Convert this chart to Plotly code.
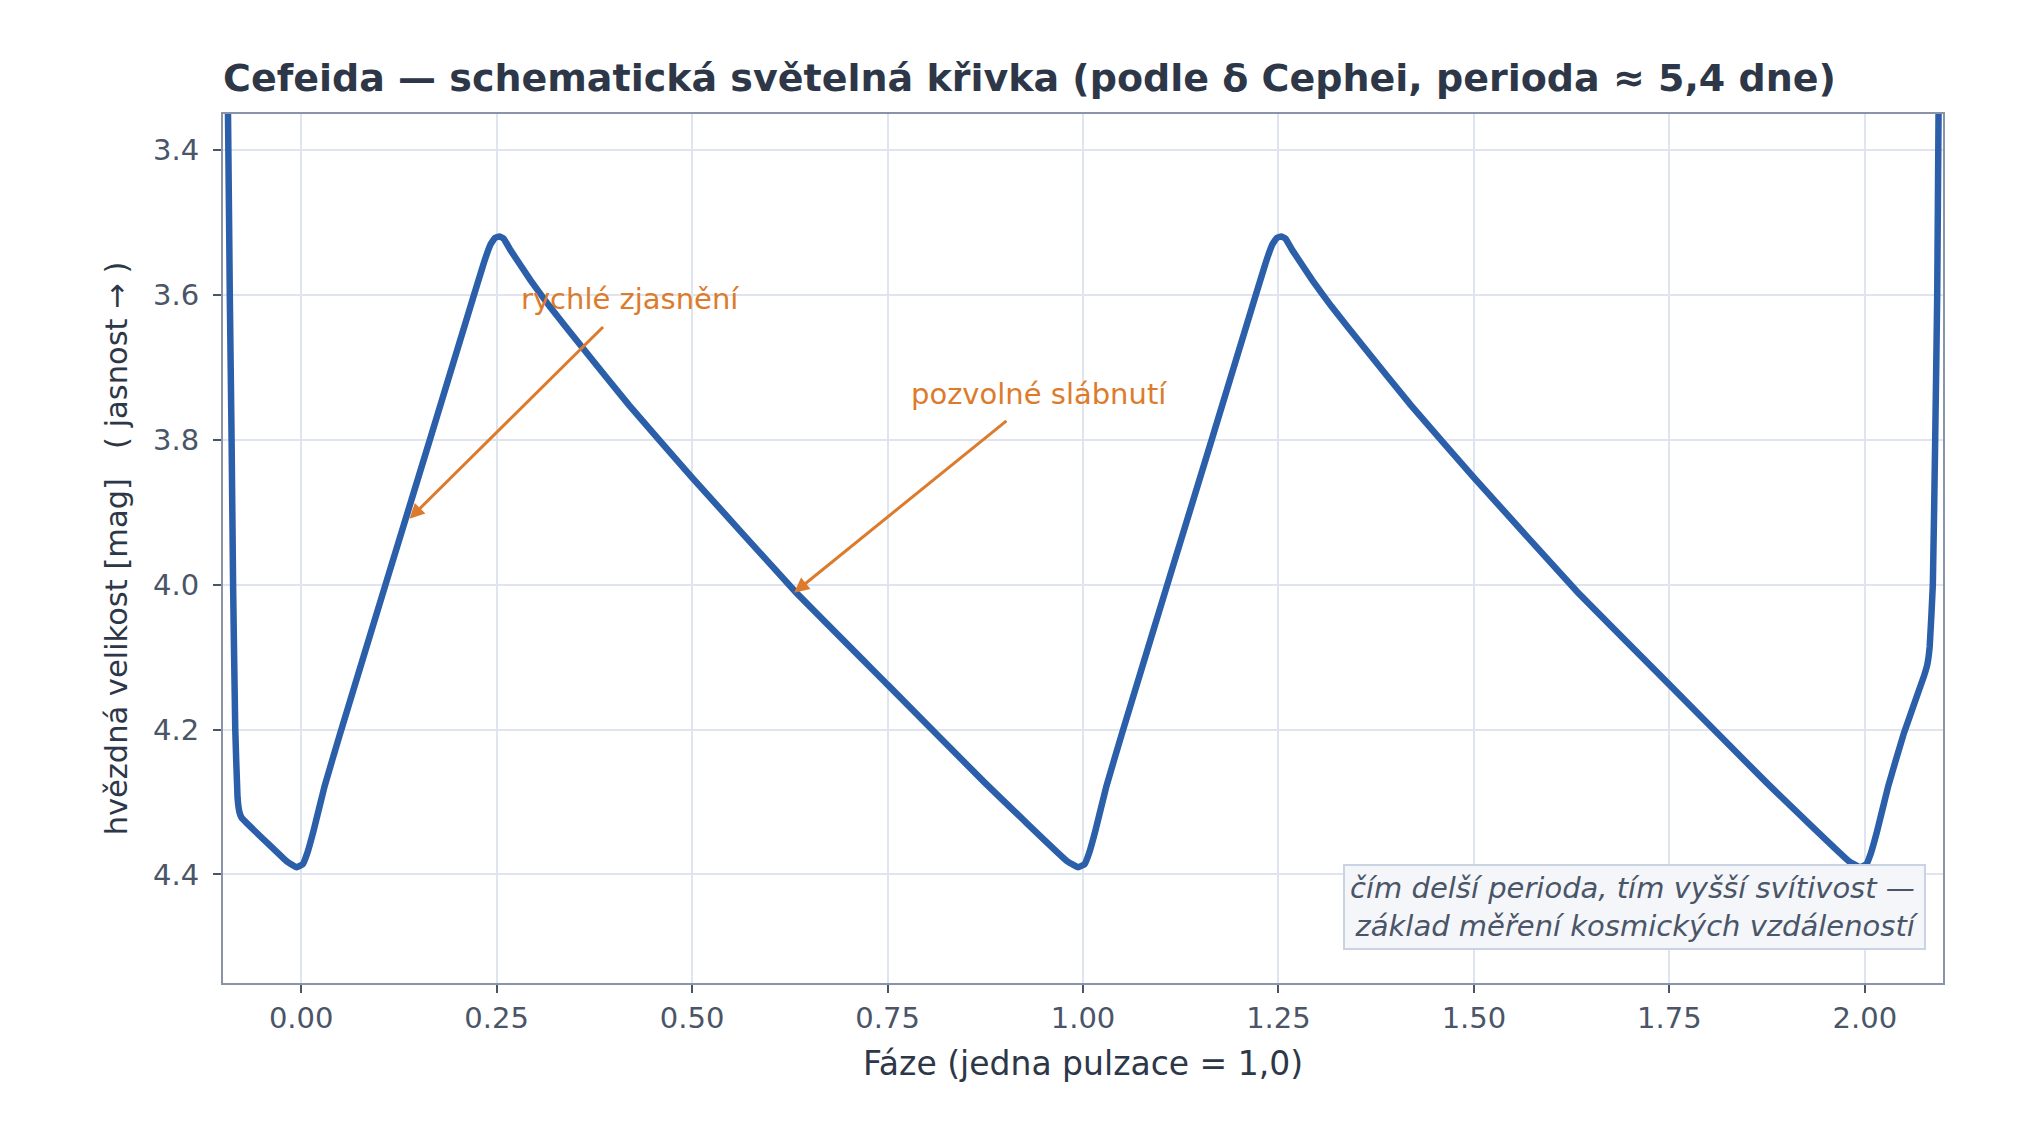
# Cefeida - schematic light curve (delta Cephei-like), phase vs. magnitude
import plotly.graph_objects as go

# ── data ─────────────────────────────────────────────────────
phase = [
    -0.0955, -0.0936, -0.0913, -0.0890, -0.0871, -0.0843, -0.0814, -0.0790, -0.0761,
    -0.0400, -0.0184, -0.0064, 0.0020, 0.0080, 0.0158, 0.0300, 0.0500, 0.1098,
    0.1654, 0.2210, 0.2338, 0.2423, 0.2480, 0.2535, 0.2590, 0.2677, 0.2930,
    0.3180, 0.3586, 0.4193, 0.5000, 0.6315, 0.7500, 0.8740, 0.9800, 0.9938,
    1.0020, 1.0080, 1.0158, 1.0300, 1.0500, 1.1098, 1.1654, 1.2210, 1.2338,
    1.2423, 1.2480, 1.2535, 1.2590, 1.2677, 1.2930, 1.3180, 1.3586, 1.4193,
    1.5000, 1.6315, 1.7500, 1.8740, 1.9800, 1.9938, 2.0020, 2.0080, 2.0158,
    2.0300, 2.0500, 2.0760, 2.0800, 2.0830, 2.0870, 2.0900, 2.0926, 2.0943,
    2.0955,
]
mag = [
    3.25, 3.35, 3.60, 3.80, 4.00, 4.20, 4.294, 4.314, 4.322,
    4.360, 4.382, 4.390, 4.386, 4.370, 4.340, 4.278, 4.205, 3.993,
    3.797, 3.600, 3.555, 3.530, 3.521, 3.519, 3.522, 3.538, 3.579,
    3.616, 3.671, 3.752, 3.852, 4.009, 4.138, 4.273, 4.382, 4.390,
    4.386, 4.370, 4.340, 4.278, 4.205, 3.993, 3.797, 3.600, 3.555,
    3.530, 3.521, 3.519, 3.522, 3.538, 3.579, 3.616, 3.671, 3.752,
    3.852, 4.009, 4.138, 4.273, 4.382, 4.390, 4.386, 4.370, 4.340,
    4.278, 4.205, 4.125, 4.110, 4.085, 4.00, 3.80, 3.60, 3.35,
    3.25,
]

x_ticks = [0.0, 0.25, 0.5, 0.75, 1.0, 1.25, 1.5, 1.75, 2.0]
y_ticks = [3.4, 3.6, 3.8, 4.0, 4.2, 4.4]

# arrows: (label, label_x, label_y, tail_x, tail_y, head_x, head_y)
notes = [
    ("rychlé zjasnění", 0.420, 3.606, 0.388, 3.642, 0.1385, 3.909),
    ("pozvolné slábnutí", 0.944, 3.736, 0.904, 3.772, 0.6305, 4.011),
]

FONT = "DejaVu Sans"
ORANGE = "#dd7b2c"

fig = go.Figure()
fig.add_trace(go.Scatter(
    x=phase, y=mag, mode="lines",
    line=dict(color="#2c5faa", width=6.5, shape="spline", smoothing=0.3),
    showlegend=False,
))

for label, lx, ly, tx, ty, hx, hy in notes:
    fig.add_annotation(
        x=hx, y=hy, ax=tx, ay=ty, xref="x", yref="y", axref="x", ayref="y",
        text="", showarrow=True, arrowhead=2, arrowsize=1, arrowwidth=3,
        arrowcolor=ORANGE, standoff=0,
    )
    fig.add_annotation(
        x=lx, y=ly, xref="x", yref="y", text=label, showarrow=False,
        font=dict(family=FONT, size=29, color=ORANGE),
    )

fig.add_annotation(
    xref="paper", yref="paper", x=0.990, y=0.038, xanchor="right", yanchor="bottom",
    text="čím delší perioda, tím vyšší svítivost —<br>základ měření kosmických vzdáleností",
    showarrow=False, align="right",
    font=dict(family=FONT, size=29, color="#4a5568", style="italic"),
    bgcolor="#f4f6fa", bordercolor="#c9d3e1", borderwidth=2, borderpad=5,
)

# the page body adds 8 px on the left/top, so the figure is 8 px smaller
fig.update_layout(
    width=2015, height=1136,
    margin=dict(l=215, r=80, t=106, b=161),
    plot_bgcolor="white", paper_bgcolor="white",
    font=dict(family=FONT, color="#2d3748"),
    title=dict(
        text="<b>Cefeida — schematická světelná křivka (podle δ Cephei, perioda ≈ 5,4 dne)</b>",
        font=dict(family=FONT, size=38, color="#2d3748"),
        x=0, xref="paper", xanchor="left",
        y=1 - 70 / 1136, yref="container", yanchor="middle",
    ),
    xaxis=dict(
        range=[-0.1, 2.1], tickvals=x_ticks, tickformat=".2f",
        title=dict(text="Fáze (jedna pulzace = 1,0)", font=dict(size=33, color="#2d3748"), standoff=18),
        tickfont=dict(size=29, color="#4a5568"),
        showgrid=True, gridcolor="#dfe4ee", gridwidth=1.5,
        showline=True, mirror=True, linecolor="#8a94a8", linewidth=2,
        ticks="outside", ticklen=8, tickwidth=2, tickcolor="#4a5568",
        zeroline=False,
    ),
    yaxis=dict(
        range=[4.55, 3.35], tickvals=y_ticks, tickformat=".1f",
        title=dict(text="hvězdná velikost [mag]\u00a0\u00a0\u00a0( jasnost → )",
                   font=dict(size=30.5, color="#2d3748"), standoff=16),
        tickfont=dict(size=29, color="#4a5568"), ticklabelstandoff=8,
        showgrid=True, gridcolor="#dfe4ee", gridwidth=1.5,
        showline=True, mirror=True, linecolor="#8a94a8", linewidth=2,
        ticks="outside", ticklen=8, tickwidth=2, tickcolor="#4a5568",
        zeroline=False,
    ),
)

fig.write_html("out.html")
